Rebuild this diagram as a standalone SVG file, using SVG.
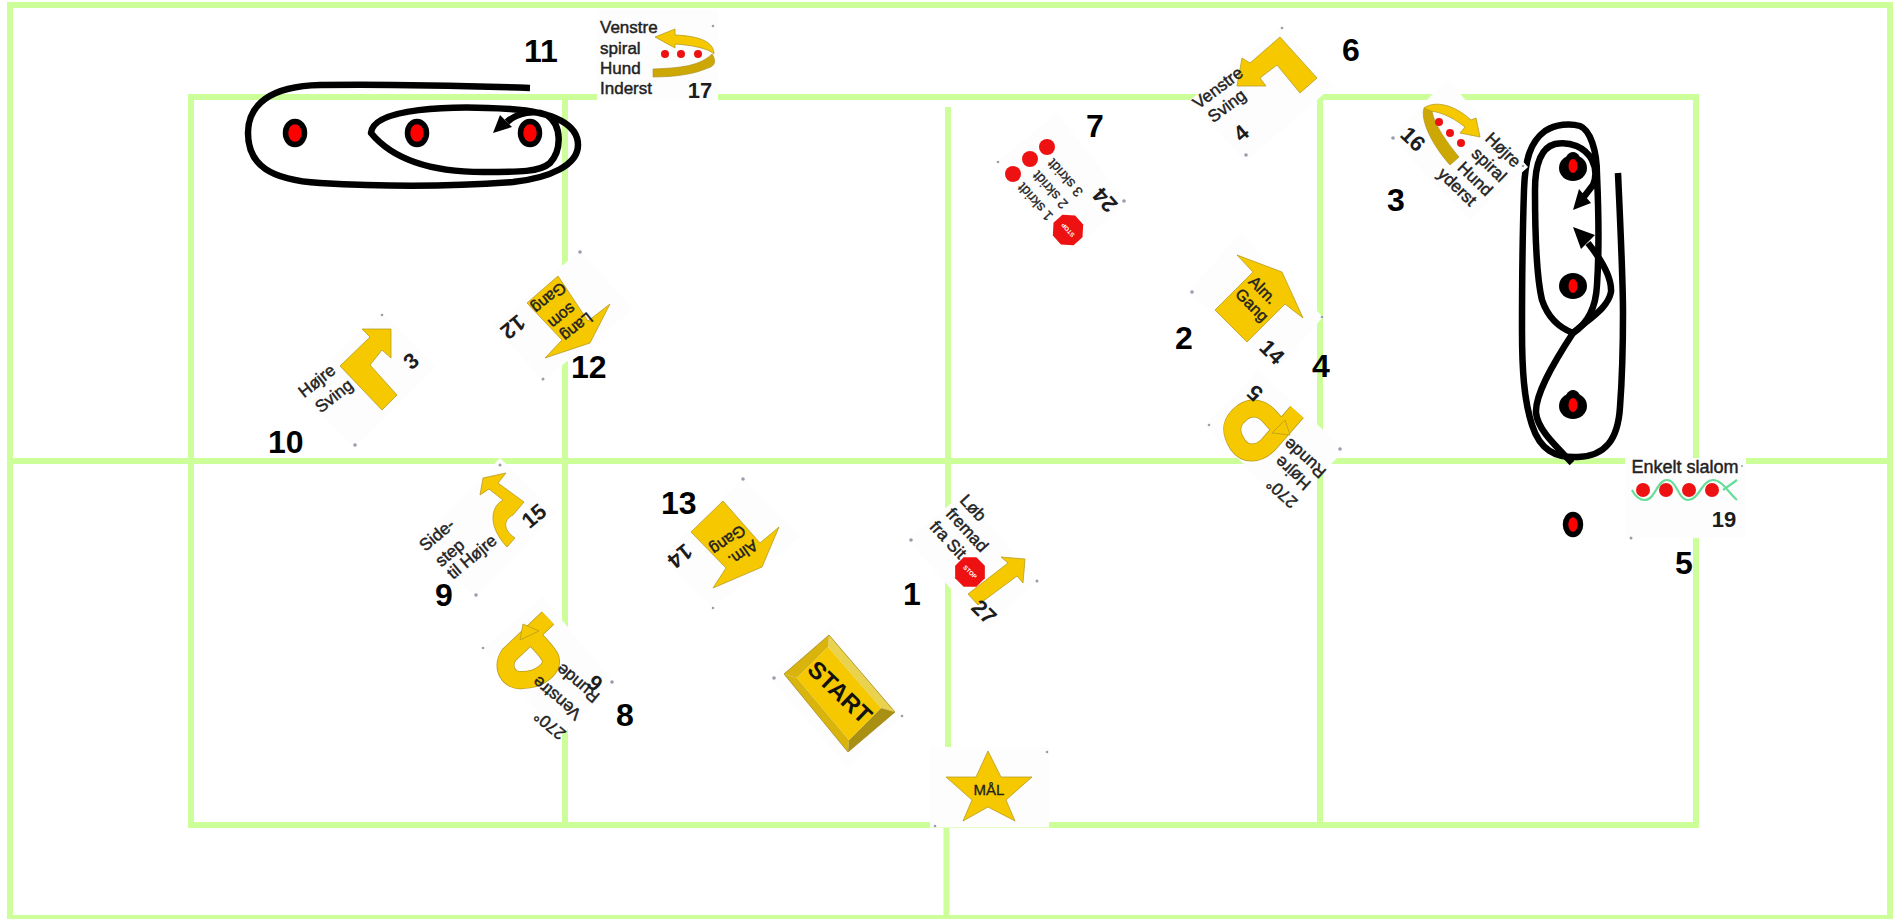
<svg xmlns="http://www.w3.org/2000/svg" width="1900" height="919" viewBox="0 0 1900 919">
<style>
text{font-family:"Liberation Sans",Arial,sans-serif;text-anchor:middle;dominant-baseline:central}
.g{fill:none;stroke:#ccff99;stroke-width:6}
.b{fill:#fdfdfe}
.y{fill:#f5c800;stroke:#b79c22;stroke-width:.8}
.gd{fill:#cda805;stroke:#a58a20;stroke-width:.6}
.t{font-size:17px;fill:#222;stroke:#222;stroke-width:.45}
.s{font-size:14px;fill:#222;stroke:#222;stroke-width:.3}
.v{font-size:22px;font-weight:bold;fill:#1c1c1c}
.n{font-size:32px;font-weight:bold;fill:#000;text-anchor:start;dominant-baseline:auto}
.c{fill:none;stroke:#000;stroke-width:6.500;stroke-linecap:butt;stroke-linejoin:round}
.h{fill:#000}
.d{fill:#ff0000;stroke:#000;stroke-width:5.500}
.r{fill:#ee1111}
.k{fill:#9a9eaa}
.u1{fill:none;stroke:#b79c22;stroke-width:18}
.u2{fill:none;stroke:#f5c800;stroke-width:16.500}
.st{font-size:6px;fill:#fff;font-weight:bold}
</style>
<g id="grid">
<rect class="g" x="10" y="5" width="1880" height="913"/>
<rect class="g" x="191" y="97" width="1505" height="728"/>
<path class="g" d="M10 461H1890M565 97V825M948 107V825M946.500 825V918M1320 97V825"/>
</g>
<g id="connectors">
<path class="c" d="M530 88C470 86 380 84 320 85C270 86 248 105 248 133C248 165 270 180 320 183C390 187 460 186 513 182C550 178 578 165 578 145C578 125 555 112 510 109C450 105 373 108 371 133C385 150 415 172 483 172C520 172 540 172 550 163C562 150 562 125 547 115C535 110 518 112 507 122"/>
<polygon class="h" points="493,133 500,115 512,127"/>
<path class="c" d="M1618 173C1621 240 1623 280 1623 313C1623 350 1622 380 1620 407C1618 440 1605 456 1578 457C1555 458 1540 450 1532 425C1524 400 1522 370 1522 330C1522 290 1522 250 1524 190C1525 160 1530 142 1545 131C1556 124 1570 123 1580 126C1590 130 1597 150 1597 175C1599 220 1599 255 1597 285C1596 305 1590 322 1573 333C1560 328 1548 318 1542 300C1536 275 1535 230 1535 190C1535 165 1540 148 1555 144C1570 141 1585 147 1592 160C1597 170 1596 178 1593 185L1583 198"/>
<polygon class="h" points="1573,210 1579,189 1591,203"/>
<path class="c" d="M1572 463C1555 445 1538 430 1536 413C1535 395 1552 365 1573 333C1590 318 1608 308 1611 292C1612 277 1600 258 1588 243"/>
<polygon class="h" points="1573,227 1595,235 1581,249"/>
</g>
<g id="obstacles">
<ellipse class="d" cx="295" cy="133" rx="9.500" ry="11.500"/>
<ellipse class="d" cx="417" cy="133" rx="9.500" ry="11.500"/>
<ellipse class="d" cx="530" cy="133" rx="9.500" ry="11.500"/>
<ellipse cx="1573" cy="168" rx="14" ry="13" class="h"/><ellipse cx="1573" cy="166" rx="9" ry="14" class="h"/><ellipse cx="1573" cy="166" rx="4.500" ry="7" fill="#f00"/>
<ellipse cx="1573" cy="286" rx="14" ry="13" class="h"/><ellipse cx="1573" cy="286" rx="4.500" ry="7" fill="#f00"/>
<ellipse cx="1573" cy="406" rx="14" ry="13" class="h"/><ellipse cx="1573" cy="404" rx="9" ry="14" class="h"/><ellipse cx="1573" cy="405" rx="4.500" ry="7" fill="#f00"/>
<ellipse class="d" cx="1573" cy="524.500" rx="7.500" ry="10"/>
</g>
<g id="sign-17">
<rect class="b" x="597" y="10" width="121" height="90"/>
<path class="gd" d="M653 69C680 68 700 66 712 54C716 60 716 66 708 68C695 74 675 77 653 77Z"/>
<path class="y" d="M655 37L675 29L675 35C700 36 714 42 714 54C708 48 690 45 675 44L675 48Z"/>
<circle class="r" cx="665" cy="54" r="4"/><circle class="r" cx="681" cy="54" r="4"/><circle class="r" cx="698" cy="54" r="4"/>
<text class="t" x="600" y="33" style="text-anchor:start;dominant-baseline:auto">Venstre</text>
<text class="t" x="600" y="54" style="text-anchor:start;dominant-baseline:auto">spiral</text>
<text class="t" x="600" y="74" style="text-anchor:start;dominant-baseline:auto">Hund</text>
<text class="t" x="600" y="94" style="text-anchor:start;dominant-baseline:auto">Inderst</text>
<text class="v" x="700" y="90">17</text>
<circle class="k" cx="713" cy="26" r="1.300"/>
</g>
<g id="sign-4">
<polygon class="b" points="1282,26 1190,100 1245,162 1333,86"/>
<polygon class="y" points="1237,86 1242,58 1250,63 1280,37 1317,78 1300,93 1277,65 1260,78 1266,86"/>
<text class="t" transform="translate(1218 88) rotate(-37)">Venstre</text>
<text class="t" transform="translate(1227 106) rotate(-37)">Sving</text>
<text class="v" transform="translate(1241 133) rotate(-40)">4</text>
<circle class="k" cx="1282" cy="28" r="1.300"/><circle class="k" cx="1246" cy="155" r="1.800"/>
</g>
<g id="sign-24">
<polygon class="b" points="997,162 1057,113 1127,202 1070,253"/>
<circle class="r" cx="1013" cy="174" r="8"/><circle class="r" cx="1030" cy="159" r="8"/><circle class="r" cx="1047" cy="147" r="8"/>
<polygon class="r" points="1062,215 1074,215 1083,224 1083,236 1074,245 1062,245 1053,236 1053,224" transform="rotate(-132 1068 230)"/>
<text class="st" transform="translate(1068 230) rotate(228)">STOP</text>
<text class="s" transform="translate(1035 202) rotate(228)">1 skridt</text>
<text class="s" transform="translate(1050 190) rotate(228)">2 skridt</text>
<text class="s" transform="translate(1065 178) rotate(228)">3 skridt</text>
<text class="v" transform="translate(1105 200) rotate(228)">24</text>
<circle class="k" cx="998" cy="162" r="1.300"/><circle class="k" cx="1124" cy="201" r="1.800"/>
</g>
<g id="sign-14a">
<polygon class="b" points="1188,292 1240,233 1323,317 1277,370"/>
<polygon class="y" points="1215,310 1253,272 1237,255 1282,272 1303,318 1285,304 1247,342"/>
<text class="t" transform="translate(1263 290) rotate(45)" style="font-size:16px">Alm.</text>
<text class="t" transform="translate(1252 305) rotate(45)" style="font-size:16px">Gang</text>
<text class="v" transform="translate(1272 352) rotate(45)">14</text>
<circle class="k" cx="1192" cy="292" r="1.800"/><circle class="k" cx="1322" cy="317" r="1.300"/>
</g>
<g id="sign-5">
<polygon class="b" points="1205,425 1258,370 1345,450 1287,508"/>
<path class="u1" d="M1297 412L1268 445C1258 455 1245 455 1238 445C1228 430 1232 420 1243 412C1252 406 1262 408 1270 417L1278 426"/>
<path class="u2" d="M1297 412L1268 445C1258 455 1245 455 1238 445C1228 430 1232 420 1243 412C1252 406 1262 408 1270 417L1278 426"/>
<polygon class="y" points="1290,435 1272,433 1285,420"/>
<text class="t" transform="translate(1305 458) rotate(222)">Runde</text>
<text class="t" transform="translate(1293 473) rotate(222)">Højre</text>
<text class="t" transform="translate(1282 493) rotate(222)">270°</text>
<text class="v" transform="translate(1255 393) rotate(222)">5</text>
<circle class="k" cx="1209" cy="425" r="1.300"/><circle class="k" cx="1340" cy="449" r="1.800"/>
</g>
<g id="sign-16">
<polygon class="b" points="1447,80 1528,167 1470,220 1390,137"/>
<path class="gd" d="M1450 165L1459 157C1445 140 1433 122 1432 110L1424 108C1420 120 1432 145 1450 165Z"/>
<path class="y" d="M1424 108C1435 100 1455 105 1471 120L1476 118L1480 137L1460 133L1465 127C1450 115 1438 112 1431 111Z"/>
<circle class="r" cx="1439" cy="122" r="4"/><circle class="r" cx="1450" cy="133" r="4"/><circle class="r" cx="1461" cy="143" r="4"/>
<text class="t" transform="translate(1503 150) rotate(44)">Højre</text>
<text class="t" transform="translate(1489 165) rotate(44)">spiral</text>
<text class="t" transform="translate(1475 179) rotate(44)">Hund</text>
<text class="t" transform="translate(1457 187) rotate(44)">yderst</text>
<text class="v" transform="translate(1413 139) rotate(44)">16</text>
<circle class="k" cx="1393" cy="138" r="1.800"/><circle class="k" cx="1523" cy="166" r="1.300"/>
</g>
<g id="sign-19">
<rect class="b" x="1625" y="458" width="121" height="80"/>
<path fill="none" stroke="#66dd99" stroke-width="2.200" d="M1632 490C1636 498 1640 500 1645 500C1655 500 1657 480 1667 480C1677 480 1678 500 1688 500C1699 500 1702 480 1713 480C1722 480 1728 492 1737 500M1723 490L1737 480"/>
<circle class="r" cx="1643" cy="490" r="7"/><circle class="r" cx="1666" cy="490" r="7"/><circle class="r" cx="1689" cy="490" r="7"/><circle class="r" cx="1712" cy="490" r="7"/>
<text class="t" x="1685" y="467" style="font-size:18px">Enkelt slalom</text>
<text class="v" x="1724" y="519">19</text>
<circle class="k" cx="1742" cy="466" r="1"/><circle class="k" cx="1631" cy="538" r="1.500"/>
</g>
<g id="sign-3">
<polygon class="b" points="382,312 435,367 355,447 297,390"/>
<polygon class="y" points="362,329 391,329 391,358 382,350 370,365 397,395 382,410 340,366 370,337"/>
<text class="t" transform="translate(317 381) rotate(-38)">Højre</text>
<text class="t" transform="translate(334 396) rotate(-38)">Sving</text>
<text class="v" transform="translate(411 361) rotate(-40)">3</text>
<circle class="k" cx="382" cy="315" r="1.300"/><circle class="k" cx="355" cy="445" r="1.800"/>
</g>
<g id="sign-12">
<polygon class="b" points="580,250 633,310 543,380 493,327"/>
<polygon class="y" points="558,276 527,303 562,340 545,358 590,343 610,304 588,321"/>
<text class="t" transform="translate(577 327) rotate(141)" style="font-size:16px">Lang</text>
<text class="t" transform="translate(562 316) rotate(141)" style="font-size:16px">som</text>
<text class="t" transform="translate(549 298) rotate(141)" style="font-size:16px">Gang</text>
<text class="v" transform="translate(513 327) rotate(141)">12</text>
<circle class="k" cx="580" cy="252" r="1.800"/><circle class="k" cx="543" cy="379" r="1.500"/>
</g>
<g id="sign-15">
<polygon class="b" points="500,458 557,513 475,597 417,543"/>
<path class="y" d="M507 547L515 538C503 530 503 520 513 515L524 502L498 483L506 473L483 478L480 495L489 489L503 500C493 505 485 523 507 547Z"/>
<text class="t" transform="translate(437 535) rotate(-40)">Side-</text>
<text class="t" transform="translate(450 553) rotate(-40)">step</text>
<text class="t" transform="translate(472 557) rotate(-40)">til Højre</text>
<text class="v" transform="translate(534 516) rotate(-40)">15</text>
<circle class="k" cx="500" cy="465" r="1.500"/><circle class="k" cx="476" cy="595" r="1.800"/>
</g>
<g id="sign-14b">
<polygon class="b" points="743,478 800,537 713,608 660,557"/>
<polygon class="y" points="723,501 691,532 726,568 713,588 762,567 779,527 760,543"/>
<text class="t" transform="translate(743 553) rotate(145)" style="font-size:16px">Alm.</text>
<text class="t" transform="translate(728 540) rotate(145)" style="font-size:16px">Gang</text>
<text class="v" transform="translate(680 556) rotate(141)">14</text>
<circle class="k" cx="743" cy="479" r="1.800"/><circle class="k" cx="713" cy="608" r="1.300"/>
</g>
<g id="sign-6">
<polygon class="b" points="543,597 613,682 560,737 483,648"/>
<path class="u1" d="M548 618L509 655C500 668 510 682 522 680C540 680 555 668 550 657C546 650 540 644 533 637"/>
<path class="u2" d="M548 618L509 655C500 668 510 682 522 680C540 680 555 668 550 657C546 650 540 644 533 637"/>
<polygon class="y" points="523,624 539,631 520,640"/>
<text class="t" transform="translate(578 683) rotate(220)">Runde</text>
<text class="t" transform="translate(557 698) rotate(220)">Venstre</text>
<text class="t" transform="translate(550 725) rotate(220)">270°</text>
<text class="v" transform="translate(595 683) rotate(220)">6</text>
<circle class="k" cx="483" cy="648" r="1.300"/><circle class="k" cx="612" cy="682" r="1.800"/>
</g>
<g id="sign-27">
<polygon class="b" points="908,540 963,493 1038,580 987,630"/>
<polygon class="y" points="968,594 1008,563 1001,557 1025,559 1023,583 1017,576 978,605"/>
<polygon class="r" points="964,557 976,557 985,566 985,578 976,587 964,587 955,578 955,566" transform="rotate(45 970 572)"/>
<text class="st" transform="translate(970 572) rotate(45)">STOP</text>
<text class="t" transform="translate(973 508) rotate(47)">Løb</text>
<text class="t" transform="translate(967 530) rotate(47)">fremad</text>
<text class="t" transform="translate(948 540) rotate(47)">fra Sit</text>
<text class="v" transform="translate(984 612) rotate(45)">27</text>
<circle class="k" cx="911" cy="540" r="1.800"/><circle class="k" cx="1037" cy="581" r="1.500"/>
</g>
<g id="start">
<polygon class="b" points="770,678 830,625 903,715 848,767"/>
<polygon fill="#e8d24e" points="829,635 895,712 881,708 828,647"/>
<polygon fill="#d8b40c" points="829,635 784,674 797,678 828,647"/>
<polygon fill="#d8b40c" points="784,674 848,752 849,740 797,678"/>
<polygon fill="#a98f12" points="848,752 895,712 881,708 849,740"/>
<polygon fill="#f5c800" points="828,647 881,708 849,740 797,678"/>
<polygon fill="none" stroke="#a58a20" stroke-width=".8" points="829,635 895,712 848,752 784,674"/>
<text transform="translate(840 692) rotate(44)" style="font-size:24px;font-weight:bold;fill:#111">START</text>
<circle class="k" cx="774" cy="678" r="1.800"/><circle class="k" cx="902" cy="716" r="1.300"/>
</g>
<g id="mal">
<rect class="b" x="930" y="747" width="119" height="80.500"/>
<polygon class="y" points="988,751 1001,777 1032,777 1006,800 1015,821 988,807 963,821 972,800 946,777 976,777"/>
<text x="989" y="789" style="font-size:15px;fill:#222;stroke:#222;stroke-width:.3">MÅL</text>
<circle class="k" cx="1047" cy="752" r="1.300"/><circle class="k" cx="935" cy="826" r="1.300"/>
</g>
<g id="labels">
<text class="n" x="524" y="62">11</text>
<text class="n" x="1342" y="61">6</text>
<text class="n" x="1086" y="137">7</text>
<text class="n" x="1387" y="211">3</text>
<text class="n" x="1175" y="349">2</text>
<text class="n" x="1312" y="377">4</text>
<text class="n" x="1675" y="574">5</text>
<text class="n" x="268" y="453">10</text>
<text class="n" x="571" y="378">12</text>
<text class="n" x="661" y="514">13</text>
<text class="n" x="435" y="606">9</text>
<text class="n" x="616" y="726">8</text>
<text class="n" x="903" y="605">1</text>
</g>
</svg>
